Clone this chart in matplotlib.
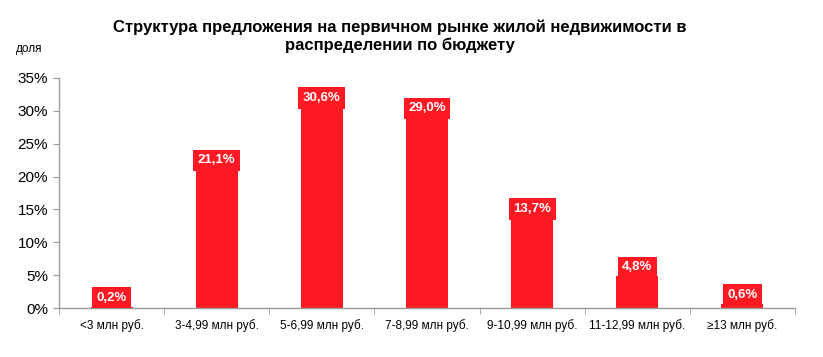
import matplotlib
matplotlib.use("Agg")
import matplotlib.pyplot as plt
import numpy as np

categories = ["<3 млн руб.", "3-4,99 млн руб.", "5-6,99 млн руб.", "7-8,99 млн руб.",
              "9-10,99 млн руб.", "11-12,99 млн руб.", "≥13 млн руб."]
values = [0.2, 21.1, 30.6, 29.0, 13.7, 4.8, 0.6]
yticks = [0, 5, 10, 15, 20, 25, 30, 35]

plt.rcParams['font.family'] = ['Liberation Sans', 'DejaVu Sans']
red = '#FE1923'
grey = '#999999'

fig = plt.figure(figsize=(8.23, 3.57), dpi=100)
ax = fig.add_axes([59/823, (357-308)/357, (795-59)/823, (308-78)/357])

x = np.arange(len(categories))
ax.bar(x, values, width=0.4, color=red, zorder=2)
for xi, v in zip(x, values):
    ax.annotate(f"{v:.1f}%".replace('.', ','), (xi, v), xytext=(0, 6.5), textcoords='offset points',
                ha='center', va='center', color='white', fontsize=9.5, fontweight='bold',
                bbox=dict(boxstyle='square,pad=0.35', fc=red, ec='none'), zorder=3)

ax.set_xlim(-0.5, len(categories) - 0.5)
ax.set_ylim(0, 35)
ax.set_yticks(yticks)
ax.set_yticklabels([f"{t}%" for t in yticks], fontsize=11)
ax.set_xticks(x)
ax.set_xticklabels(categories, fontsize=8.5)
ax.set_xticks(np.arange(len(categories) + 1) - 0.5, minor=True)
ax.tick_params(axis='x', which='major', length=0, pad=8)
ax.tick_params(axis='x', which='minor', length=4, color=grey, direction='out')
ax.tick_params(axis='y', length=4, color=grey, direction='out', pad=4)
for s in ['top', 'right']:
    ax.spines[s].set_visible(False)
for s in ['left', 'bottom']:
    ax.spines[s].set_color(grey)
    ax.spines[s].set_linewidth(1)

fig.text(400/823, 1 - 36/357, "Структура предложения на первичном рынке жилой недвижимости в\nраспределении по бюджету",
         ha='center', va='center', fontsize=12, fontweight='bold', linespacing=1.2)
fig.text(29/823, 1 - 49/357, "доля", ha='center', va='center', fontsize=8.5)

fig.savefig("out.png", dpi=100)
